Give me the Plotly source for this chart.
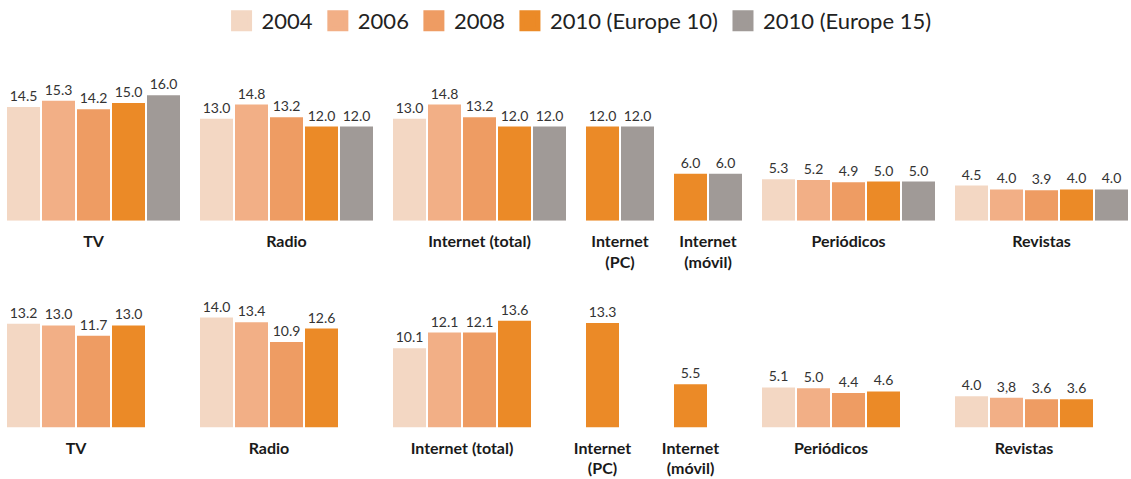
import plotly.graph_objects as go

# ---------------- data ----------------
categories = ["TV", "Radio", "Internet (total)", "Internet (PC)", "Internet (móvil)", "Periódicos", "Revistas"]
cat_labels = ["TV", "Radio", "Internet (total)", "Internet<br>(PC)", "Internet<br>(móvil)", "Periódicos", "Revistas"]
series = ["2004", "2006", "2008", "2010 (Europe 10)", "2010 (Europe 15)"]

top_2004 = [14.5, 13.0, 13.0, None, None, 5.3, 4.5]
top_2006 = [15.3, 14.8, 14.8, None, None, 5.2, 4.0]
top_2008 = [14.2, 13.2, 13.2, None, None, 4.9, 3.9]
top_2010_e10 = [15.0, 12.0, 12.0, 12.0, 6.0, 5.0, 4.0]
top_2010_e15 = [16.0, 12.0, 12.0, 12.0, 6.0, 5.0, 4.0]

bot_2004 = [13.2, 14.0, 10.1, None, None, 5.1, 4.0]
bot_2006 = [13.0, 13.4, 12.1, None, None, 5.0, 3.8]
bot_2008 = [11.7, 10.9, 12.1, None, None, 4.4, 3.6]
bot_2010_e10 = [13.0, 12.6, 13.6, 13.3, 5.5, 4.6, 3.6]

# label as printed in the source (decimal comma typo)
bot_label_override = {("Revistas", "2006"): "3,8"}

colors = ["#F3D7C3", "#F2AF86", "#EE9C63", "#EB8A27", "#A09A97"]

top_rows = [top_2004, top_2006, top_2008, top_2010_e10, top_2010_e15]
bot_rows = [bot_2004, bot_2006, bot_2008, bot_2010_e10]

# ---------------- layout geometry (pixels) ----------------
W, H = 1131, 479
PITCH = 35.0        # px between bar starts
GROUP_GAP = 18.0    # extra px between groups
BAR_W = 33.0
LEFT = 7.0          # first bar left edge
PX_PER_UNIT = 8.4
Y_MAX = 17.0
TOP_BASE = 203      # px from top
BOT_BASE = 424

gap_u = GROUP_GAP / PITCH
slot_of = []
group_start = []
pos = 0.0
for ci in range(len(categories)):
    present = [si for si in range(len(series)) if top_rows[si][ci] is not None]
    group_start.append(pos)
    slot_of.append({si: k for k, si in enumerate(present)})
    pos += len(present) + gap_u

def xpos(ci, si):
    return group_start[ci] + slot_of[ci][si]

x0 = -(BAR_W / PITCH) / 2 - LEFT / PITCH
x_range = [x0, x0 + W / PITCH]

def ydomain(base_px):
    b = (H - base_px) / H
    return [b, b + Y_MAX * PX_PER_UNIT / H]

fig = go.Figure()

def add_row(rows, xa, ya, override=None):
    centers = []
    for ci in range(len(categories)):
        xs = [xpos(ci, si) for si in range(len(rows)) if rows[si][ci] is not None]
        centers.append(sum(xs) / len(xs))
    for si, vals in enumerate(rows):
        xs, ys, txt = [], [], []
        for ci, v in enumerate(vals):
            if v is None:
                continue
            xs.append(xpos(ci, si))
            ys.append(v)
            t = f"{v:.1f}"
            if override and (categories[ci], series[si]) in override:
                t = override[(categories[ci], series[si])]
            txt.append(t)
        fig.add_trace(go.Bar(
            x=xs, y=ys, text=txt, textposition="outside",
            width=BAR_W / PITCH, marker=dict(color=colors[si], line=dict(width=0)),
            textfont=dict(family="Lato", size=14, color="#333333"),
            cliponaxis=False, showlegend=False, xaxis=xa, yaxis=ya,
            hoverinfo="skip",
        ))
    return centers

c_top = add_row(top_rows, "x", "y")
c_bot = add_row(bot_rows, "x2", "y2", bot_label_override)

# legend proxies
for si, name in enumerate(series):
    fig.add_trace(go.Scatter(
        x=[None], y=[None], mode="markers", name=name,
        marker=dict(symbol="square", size=16, color=colors[si],
                    line=dict(width=5, color=colors[si])),
        xaxis="x", yaxis="y",
    ))

axis_common = dict(range=x_range, showgrid=False, zeroline=False, showline=False,
                   ticks="", tickfont=dict(family="Lato", size=16, color="#1a1a1a", weight=700),
                   ticklabelstandoff=9, fixedrange=True, automargin=False)

fig.update_layout(
    width=W, height=H,
    margin=dict(l=0, r=0, t=0, b=0),
    paper_bgcolor="white", plot_bgcolor="white",
    barmode="overlay",
    xaxis=dict(domain=[0, 1], anchor="y", tickmode="array", tickvals=c_top, ticktext=cat_labels, **axis_common),
    yaxis=dict(domain=ydomain(TOP_BASE), range=[0, Y_MAX], visible=False, anchor="x", fixedrange=True),
    xaxis2=dict(domain=[0, 1], anchor="y2", tickmode="array", tickvals=c_bot, ticktext=cat_labels, **axis_common),
    yaxis2=dict(domain=ydomain(BOT_BASE), range=[0, Y_MAX], visible=False, anchor="x2", fixedrange=True),
    legend=dict(orientation="h", x=0.512, xanchor="center", y=1.07, yanchor="top",
                font=dict(family="Lato", size=22, color="#222222"),
                itemsizing="trace", bgcolor="rgba(0,0,0,0)"),
    showlegend=True,
)

fig.write_html("out.html", config={"displayModeBar": False},
               post_script="document.body.style.margin='0px';")
